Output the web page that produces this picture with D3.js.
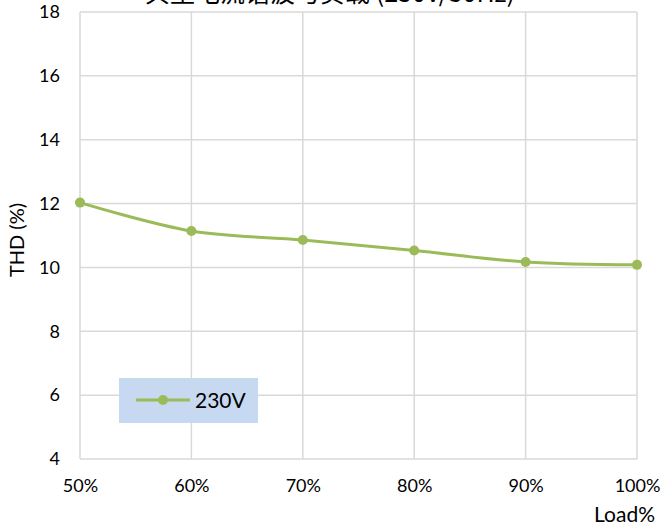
<!DOCTYPE html>
<html>
<head>
<meta charset="utf-8">
<script src="https://cdn.jsdelivr.net/npm/d3@7"></script>
<style>
  body { margin: 0; background: #fff; }
  text { font-family: Lato, "Liberation Sans", sans-serif; }
</style>
</head>
<body>
<div class="chart"></div>
<script>
// data
const loads = ["50%", "60%", "70%", "80%", "90%", "100%"];
const thd230 = [12.03, 11.14, 10.86, 10.53, 10.17, 10.08];
const yTicks = [4, 6, 8, 10, 12, 14, 16, 18];
const seriesName = "230V";
const title = "典型电流谐波与负载 (230V/50Hz)";

const W = 663, H = 529;
const margin = { top: 12, right: 26, bottom: 70, left: 80 };
const width = W - margin.left - margin.right;
const height = H - margin.top - margin.bottom;

const svg = d3.select(".chart").append("svg")
    .attr("width", W)
    .attr("height", H);

const g = svg.append("g")
    .attr("transform", `translate(${margin.left}, ${margin.top})`);

const x = d3.scalePoint().domain(loads).range([0, width]);
const y = d3.scaleLinear().domain([4, 18]).range([height, 0]);

// grid
g.append("g").selectAll("line.h").data(yTicks).join("line")
    .attr("x1", 0).attr("x2", width)
    .attr("y1", d => y(d)).attr("y2", d => y(d))
    .attr("stroke", "#d9d9d9").attr("stroke-width", 1.5);
g.append("g").selectAll("line.v").data(loads).join("line")
    .attr("x1", d => x(d)).attr("x2", d => x(d))
    .attr("y1", 0).attr("y2", height)
    .attr("stroke", "#d9d9d9").attr("stroke-width", 1.5);

// axes
const yAxis = g.append("g").call(d3.axisLeft(y).tickValues(yTicks).tickSize(0).tickPadding(20));
const xAxis = g.append("g").attr("transform", `translate(0, ${height})`)
    .call(d3.axisBottom(x).tickSize(0).tickPadding(20));
[yAxis, xAxis].forEach(a => {
    a.select(".domain").remove();
    a.selectAll("text").attr("font-size", 18).attr("fill", "#000")
        .style("font-family", "Lato, 'Liberation Sans', sans-serif");
});

// line
const line = d3.line()
    .x((d, i) => x(loads[i]))
    .y(d => y(d))
    .curve(d3.curveCatmullRom.alpha(0.5));

g.append("path")
    .datum(thd230)
    .attr("fill", "none")
    .attr("stroke", "#9bbb59")
    .attr("stroke-width", 3)
    .attr("d", line);

g.selectAll("circle.pt").data(thd230).join("circle")
    .attr("cx", (d, i) => x(loads[i]))
    .attr("cy", d => y(d))
    .attr("r", 5)
    .attr("fill", "#9bbb59");

// axis titles
svg.append("text")
    .attr("transform", "translate(24, 240) rotate(-90)")
    .attr("text-anchor", "middle")
    .attr("font-size", 20)
    .text("THD (%)");

svg.append("text")
    .attr("x", 655).attr("y", 522)
    .attr("text-anchor", "end")
    .attr("font-size", 21)
    .text("Load%");

// title, mostly clipped at the top as in the source
svg.append("text")
    .attr("x", 330).attr("y", 2)
    .attr("text-anchor", "middle")
    .attr("font-size", 25)
    .style("font-family", "'Noto Sans CJK SC', sans-serif")
    .text(title);

// legend
const lg = svg.append("g").attr("transform", "translate(119, 378)");
lg.append("rect").attr("width", 139).attr("height", 45).attr("fill", "#c6d9f1");
lg.append("line").attr("x1", 17).attr("x2", 71).attr("y1", 22).attr("y2", 22)
    .attr("stroke", "#9bbb59").attr("stroke-width", 3);
lg.append("circle").attr("cx", 44).attr("cy", 22).attr("r", 5).attr("fill", "#9bbb59");
lg.append("text").attr("x", 76).attr("y", 30).attr("font-size", 21).text(seriesName);
</script>
</body>
</html>
